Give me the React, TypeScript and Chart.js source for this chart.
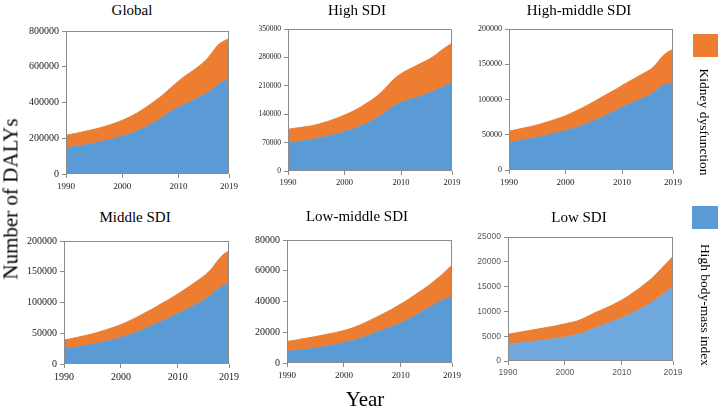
import React, { useEffect, useRef } from "react";
import { Chart, registerables } from "chart.js";
Chart.register(...registerables);

const YEARS = [1990, 1991, 1992, 1993, 1994, 1995, 1996, 1997, 1998, 1999, 2000, 2001, 2002, 2003, 2004, 2005, 2006, 2007, 2008, 2009, 2010, 2011, 2012, 2013, 2014, 2015, 2016, 2017, 2018, 2019];
const X_TICKS = [1990, 2000, 2010, 2019];

const SERIES_BMI = "High body-mass index";
const SERIES_KIDNEY = "Kidney dysfunction";

const globalBMI = [145000, 150000, 156000, 161000, 166000, 172000, 179000, 186000, 194000, 202000, 211000, 221000, 232000, 245000, 260000, 276000, 294000, 314000, 336000, 356000, 373000, 388000, 403000, 418000, 434000, 450000, 472000, 498000, 517000, 531000];
const globalKidney = [72000, 73000, 73000, 75000, 77000, 78000, 79000, 81000, 83000, 86000, 89000, 93000, 98000, 103000, 108000, 114000, 119000, 123000, 128000, 136000, 146000, 156000, 163000, 170000, 178000, 190000, 208000, 222000, 225000, 226000];

const highBMI = [70000, 71000, 73000, 75000, 77000, 80000, 83000, 86000, 89000, 93000, 97000, 101000, 106000, 112000, 118000, 125000, 133000, 143000, 154000, 163000, 169000, 174000, 178000, 182000, 187000, 192000, 198000, 205000, 212000, 218000];
const highKidney = [33000, 34000, 34000, 34000, 34000, 34000, 35000, 36000, 38000, 39000, 41000, 43000, 45000, 47000, 50000, 52000, 55000, 58000, 62000, 67000, 71000, 74000, 77000, 80000, 82000, 84000, 87000, 91000, 94000, 97000];

const highMiddleBMI = [39000, 40500, 42000, 43500, 45000, 46500, 48000, 50000, 52000, 54000, 56000, 58000, 60500, 63500, 66500, 70000, 73500, 77000, 81000, 85000, 89000, 92500, 96000, 99500, 103000, 107000, 113000, 119000, 122000, 124000];
const highMiddleKidney = [16000, 16200, 16500, 16700, 17000, 17500, 18300, 18700, 19300, 20000, 21000, 22500, 23800, 24800, 26000, 27000, 28000, 29000, 29500, 30000, 31000, 32000, 33000, 34000, 35000, 35500, 37000, 41000, 45000, 47000];

const middleBMI = [24700, 26000, 27300, 28700, 30300, 32000, 34000, 36000, 38200, 40500, 43000, 46000, 49000, 52500, 56500, 60500, 64500, 68500, 73000, 77500, 82000, 86500, 91000, 96000, 101000, 106000, 114000, 122000, 127500, 130000];
const middleKidney = [14300, 14800, 15400, 16000, 16500, 17000, 17700, 18500, 19300, 20200, 21000, 22000, 23500, 24500, 25500, 26500, 27500, 29000, 29500, 30500, 32000, 33500, 35000, 36500, 38000, 40000, 41500, 46000, 50500, 54000];

const lowMiddleBMI = [7500, 7900, 8300, 8700, 9200, 9700, 10300, 11000, 11700, 12400, 13200, 14100, 15100, 16200, 17500, 19000, 20400, 21800, 23200, 24600, 26000, 27800, 29800, 31800, 34000, 36200, 38300, 40300, 41800, 43100];
const lowMiddleKidney = [6500, 6700, 6900, 7200, 7300, 7500, 7600, 7700, 7700, 7800, 7900, 8100, 8400, 8800, 9200, 9500, 9900, 10400, 10900, 11600, 12400, 12800, 13300, 13800, 14100, 14500, 15400, 16400, 18400, 20500];

const lowBMI = [3400, 3500, 3650, 3770, 3900, 4050, 4200, 4350, 4500, 4650, 4800, 5050, 5300, 5600, 6050, 6550, 6950, 7400, 7800, 8250, 8700, 9200, 9750, 10350, 10950, 11600, 12400, 13200, 14100, 15000];
const lowKidney = [2000, 2100, 2150, 2230, 2300, 2350, 2400, 2450, 2500, 2600, 2700, 2700, 2700, 2850, 2950, 3050, 3150, 3200, 3300, 3450, 3600, 3800, 4050, 4250, 4550, 4800, 5100, 5500, 5800, 6100];

const ORANGE = "#ED7D31";
const BLUE = "#5B9BD5";
const BLUE_LIGHT = "#6FA8DC";
const AXIS = "#8c8c8c";
const SERIF = '"Liberation Serif", "Times New Roman", serif';
const SANS = '"Liberation Sans", Arial, sans-serif';

type Panel = {
  title: string;
  bmi: number[];
  kidney: number[];
  yMax: number;
  yStep: number;
  box: [number, number, number, number];
  tx: number;
  ty: number;
  yFont: number;
  xFont: number;
  sans: boolean;
};

const PANELS: Panel[] = [
  { title: "Global", bmi: globalBMI, kidney: globalKidney, yMax: 800000, yStep: 200000, box: [66, 30, 229, 174], tx: 132, ty: 10, yFont: 10, xFont: 9, sans: false },
  { title: "High SDI", bmi: highBMI, kidney: highKidney, yMax: 350000, yStep: 70000, box: [288, 29, 452, 171], tx: 357, ty: 10, yFont: 7.5, xFont: 8.5, sans: false },
  { title: "High-middle SDI", bmi: highMiddleBMI, kidney: highMiddleKidney, yMax: 200000, yStep: 50000, box: [509, 29, 673, 170], tx: 579, ty: 10, yFont: 8, xFont: 9, sans: false },
  { title: "Middle SDI", bmi: middleBMI, kidney: middleKidney, yMax: 200000, yStep: 50000, box: [64, 240, 229, 364], tx: 135, ty: 217, yFont: 10, xFont: 10, sans: false },
  { title: "Low-middle SDI", bmi: lowMiddleBMI, kidney: lowMiddleKidney, yMax: 80000, yStep: 20000, box: [287, 239, 452, 363], tx: 357, ty: 216, yFont: 10, xFont: 9, sans: false },
  { title: "Low SDI", bmi: lowBMI, kidney: lowKidney, yMax: 25000, yStep: 5000, box: [508, 237, 673, 361], tx: 579, ty: 217, yFont: 8.5, xFont: 8.5, sans: true },
];

const YW = 50;
const PAD_TOP = 8;
const PAD_RIGHT = 16;
const XH = 24;

const framePlugin = {
  id: "frame",
  afterDraw(chart: any) {
    const { ctx, chartArea: a } = chart;
    ctx.save();
    ctx.strokeStyle = AXIS;
    ctx.lineWidth = 1;
    ctx.strokeRect(Math.round(a.left) + 0.5, Math.round(a.top) + 0.5, Math.round(a.right - a.left) - 1, Math.round(a.bottom - a.top) - 1);
    ctx.restore();
  },
};

function PanelChart({ p }: { p: Panel }) {
  const ref = useRef<HTMLCanvasElement | null>(null);
  const [l, t, r, b] = p.box;
  const w = YW + (r - l) + PAD_RIGHT;
  const h = PAD_TOP + (b - t) + XH;

  useEffect(() => {
    if (!ref.current) return;
    const family = p.sans ? SANS : SERIF;
    const tickColor = p.sans ? "#595959" : "#1a1a1a";
    const blue = p.sans ? BLUE_LIGHT : BLUE;
    const chart = new Chart(ref.current, {
      type: "line",
      data: {
        datasets: [
          {
            label: SERIES_BMI,
            data: YEARS.map((x, i) => ({ x, y: p.bmi[i] })),
            backgroundColor: blue,
            borderColor: blue,
            borderWidth: 1,
            fill: "origin",
            pointRadius: 0,
            tension: 0.25,
          },
          {
            label: SERIES_KIDNEY,
            data: YEARS.map((x, i) => ({ x, y: p.kidney[i] })),
            backgroundColor: ORANGE,
            borderColor: ORANGE,
            borderWidth: 1,
            fill: "-1",
            pointRadius: 0,
            tension: 0.25,
          },
        ],
      },
      options: {
        responsive: false,
        animation: false,
        events: [],
        layout: { padding: { top: PAD_TOP, right: PAD_RIGHT, left: 0, bottom: 0 } },
        plugins: { legend: { display: false }, tooltip: { enabled: false }, title: { display: false } },
        scales: {
          x: {
            type: "linear",
            min: 1990,
            max: 2019,
            afterBuildTicks: (s: any) => {
              s.ticks = X_TICKS.map((v) => ({ value: v }));
            },
            afterFit: (s: any) => {
              s.height = XH;
            },
            ticks: {
              autoSkip: false,
              maxRotation: 0,
              padding: 3,
              color: tickColor,
              font: { family, size: p.xFont },
              callback: (v: any) => String(v),
            },
            grid: { drawOnChartArea: false, color: AXIS, tickLength: 4 },
            border: { display: false },
          },
          y: {
            stacked: true,
            min: 0,
            max: p.yMax,
            afterFit: (s: any) => {
              s.width = YW;
            },
            ticks: {
              stepSize: p.yStep,
              padding: 3,
              color: tickColor,
              font: { family, size: p.yFont },
              callback: (v: any) => String(v),
            },
            grid: { drawOnChartArea: false, color: AXIS, tickLength: 4 },
            border: { display: false },
          },
        },
      } as any,
      plugins: [framePlugin],
    });
    return () => chart.destroy();
  }, []);

  return (
    <>
      <canvas
        ref={ref}
        width={w}
        height={h}
        style={{ position: "absolute", left: l - YW, top: t - PAD_TOP, width: w, height: h }}
      />
      <div
        style={{
          position: "absolute",
          left: p.tx - 100,
          top: p.ty - 8,
          width: 200,
          height: 16,
          textAlign: "center",
          fontFamily: SERIF,
          fontSize: 15,
          lineHeight: "16px",
          whiteSpace: "nowrap",
          color: "#000",
        }}
      >
        {p.title}
      </div>
    </>
  );
}

export default function App() {
  const rotated = (text: string, x: number, y: number, deg: number, size: number) => (
    <div
      style={{
        position: "absolute",
        left: x,
        top: y,
        transform: `translate(-50%, -50%) rotate(${deg}deg)`,
        fontFamily: SERIF,
        fontSize: size,
        lineHeight: 1.1,
        whiteSpace: "nowrap",
        color: "#000",
      }}
    >
      {text}
    </div>
  );
  return (
    <div style={{ position: "absolute", left: 0, top: 0, width: 721, height: 409, background: "#fff", overflow: "hidden" }}>
      {PANELS.map((p) => (
        <PanelChart key={p.title} p={p} />
      ))}
      {rotated("Number of DALYs", 10.5, 199, -90, 21)}
      <div
        style={{
          position: "absolute",
          left: 315,
          top: 388,
          width: 100,
          height: 22,
          textAlign: "center",
          fontFamily: SERIF,
          fontSize: 21,
          lineHeight: "22px",
          whiteSpace: "nowrap",
          color: "#000",
        }}
      >
        Year
      </div>
      <div style={{ position: "absolute", left: 693, top: 34, width: 25, height: 23, background: ORANGE }} />
      {rotated(SERIES_KIDNEY, 704, 121.5, 90, 13.5)}
      <div style={{ position: "absolute", left: 692, top: 206, width: 26, height: 23, background: BLUE }} />
      {rotated(SERIES_BMI, 705, 304.5, 90, 13.5)}
    </div>
  );
}
